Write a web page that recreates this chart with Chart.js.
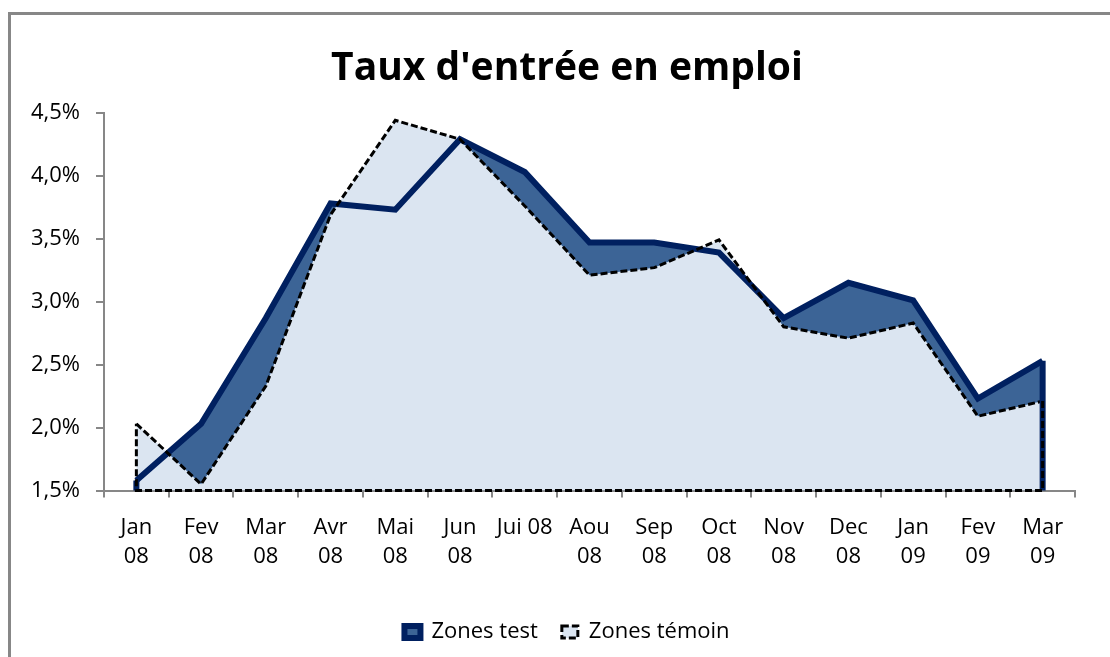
<!DOCTYPE html>
<html lang="fr">
<head>
<meta charset="utf-8">
<title>Taux d'entrée en emploi</title>
<script src="https://cdn.jsdelivr.net/npm/chart.js@4.4.1/dist/chart.umd.min.js"></script>
<style>
    html, body { margin: 0; padding: 0; background: #ffffff; overflow: hidden; }
    #cadre {
        position: absolute; left: 8px; top: 12px;
        width: 1200px; height: 800px;
        border: 3px solid #878787;
    }
    #conteneur { position: absolute; left: 0; top: 0; width: 1110px; height: 657px; }
</style>
</head>
<body>
<div id="cadre"></div>
<div id="conteneur"><canvas id="graphique"></canvas></div>
<script>
// Données
const categories = [
    ['Jan', '08'], ['Fev', '08'], ['Mar', '08'], ['Avr', '08'], ['Mai', '08'], ['Jun', '08'], 'Jui 08',
    ['Aou', '08'], ['Sep', '08'], ['Oct', '08'], ['Nov', '08'], ['Dec', '08'], ['Jan', '09'], ['Fev', '09'], ['Mar', '09']
];
const zonesTest = [1.58, 2.03, 2.87, 3.78, 3.73, 4.29, 4.03, 3.47, 3.47, 3.39, 2.87, 3.15, 3.01, 2.23, 2.53];
const zonesTemoin = [2.03, 1.55, 2.33, 3.69, 4.44, 4.29, 3.76, 3.21, 3.27, 3.49, 2.80, 2.71, 2.83, 2.09, 2.21];
const etiquettesY = ['1,5%', '2,0%', '2,5%', '3,0%', '3,5%', '4,0%', '4,5%'];

const police = "'Open Sans', 'DejaVu Sans', sans-serif";
const gris = '#878787';

// Bords verticaux et ligne de base des aires (comme dans Excel)
const bordsAires = {
    id: 'bordsAires',
    afterDatasetsDraw(chart) {
        const ctx = chart.ctx;
        const base = chart.scales.y.getPixelForValue(chart.scales.y.min);
        // d'abord la série test, puis la série témoin par-dessus
        [1, 0].forEach(i => {
            const ds = chart.data.datasets[i];
            const pts = chart.getDatasetMeta(i).data;
            const premier = pts[0];
            const dernier = pts[pts.length - 1];
            ctx.save();
            ctx.strokeStyle = ds.borderColor;
            ctx.lineWidth = ds.borderWidth;
            ctx.setLineDash(ds.borderDash || []);
            ctx.beginPath();
            if (i === 0) {
                ctx.moveTo(dernier.x, dernier.y);
                ctx.lineTo(dernier.x, base);
                ctx.lineTo(premier.x, base);
                ctx.lineTo(premier.x, premier.y);
            } else {
                ctx.moveTo(premier.x, premier.y);
                ctx.lineTo(premier.x, base);
                ctx.moveTo(dernier.x, dernier.y);
                ctx.lineTo(dernier.x, base);
            }
            ctx.stroke();
            ctx.restore();
        });
    }
};

const ctx = document.getElementById('graphique').getContext('2d');
new Chart(ctx, {
    type: 'line',
    data: {
        labels: categories,
        datasets: [
            {
                label: 'Zones témoin',
                data: zonesTemoin,
                backgroundColor: '#dbe5f1',
                borderColor: '#000000',
                borderWidth: 3,
                borderDash: [7, 3],
                fill: 'start',
                pointRadius: 0,
                tension: 0
            },
            {
                label: 'Zones test',
                data: zonesTest,
                backgroundColor: '#3c6496',
                borderColor: '#002060',
                borderWidth: 6,
                borderJoinStyle: 'miter',
                fill: 'start',
                pointRadius: 0,
                tension: 0
            }
        ]
    },
    options: {
        responsive: true,
        maintainAspectRatio: false,
        animation: false,
        layout: { padding: { left: 27, right: 3, top: 0, bottom: 4 } },
        plugins: {
            filler: { drawTime: 'beforeDatasetsDraw' },
            title: {
                display: true,
                text: "Taux d'entrée en emploi",
                color: '#000000',
                font: { family: police, size: 39, weight: 'bold', lineHeight: 1.2 },
                padding: { top: 45, bottom: 21 }
            },
            legend: {
                position: 'bottom',
                labels: {
                    color: '#000000',
                    font: { family: police, size: 22 },
                    boxWidth: 16,
                    boxHeight: 12,
                    padding: 24,
                    sort: (a, b) => b.datasetIndex - a.datasetIndex
                }
            },
            tooltip: { enabled: false }
        },
        scales: {
            x: {
                offset: true,
                grid: {
                    offset: true,
                    drawOnChartArea: false,
                    color: gris,
                    lineWidth: 2,
                    tickLength: 7
                },
                border: { color: gris, width: 2 },
                ticks: {
                    color: '#000000',
                    font: { family: police, size: 22, lineHeight: 1.345 },
                    maxRotation: 0,
                    autoSkip: false,
                    padding: 15
                },
                afterFit(scale) { scale.height = 106.5; }
            },
            y: {
                min: 1.5,
                max: 4.5,
                ticks: {
                    stepSize: 0.5,
                    color: '#000000',
                    font: { family: police, size: 22 },
                    padding: 16,
                    callback: (v, i) => etiquettesY[i]
                },
                grid: {
                    drawOnChartArea: false,
                    color: gris,
                    lineWidth: 2,
                    tickLength: 8
                },
                border: { color: gris, width: 2 },
                afterFit(scale) { scale.width = 77; }
            },
            // axe vide à droite, pour centrer titre et légende comme dans l'original
            droite: {
                position: 'right',
                grid: { display: false },
                border: { display: false },
                ticks: { display: false },
                afterFit(scale) { scale.width = 32; }
            }
        }
    },
    plugins: [bordsAires]
});
</script>
</body>
</html>
